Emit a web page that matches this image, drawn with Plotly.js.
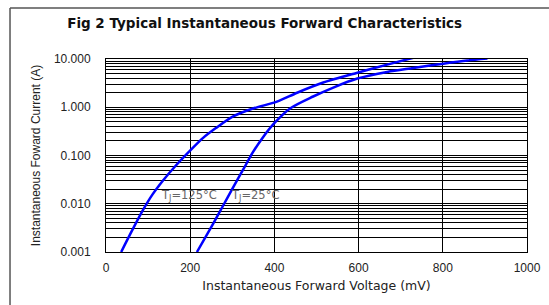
<!DOCTYPE html>
<html>
<head>
<meta charset="utf-8">
<script src="https://cdn.plot.ly/plotly-3.0.1.min.js"></script>
<style>html,body{margin:0;padding:0;background:#fff;}#chart{width:549px;height:305px;}</style>
</head>
<body>
<div id="chart"></div>
<script>
// Tj = 125 C curve
const v125 = [36, 63, 87, 111, 135, 166, 202, 230, 261, 302, 349, 406, 454, 516, 597, 668, 730];
const i125 = [0.001, 0.0029, 0.0072, 0.0158, 0.030, 0.062, 0.132, 0.229, 0.37, 0.646, 0.94, 1.31, 2.0, 3.25, 5.2, 7.65, 10.6];
// Tj = 25 C curve
const v25 = [216, 254, 278, 302, 326, 349, 373, 402, 438, 492, 540, 597, 668, 730, 801, 858, 906];
const i25 = [0.001, 0.0038, 0.0091, 0.0219, 0.0513, 0.117, 0.24, 0.49, 0.955, 1.67, 2.56, 3.93, 5.4, 6.5, 8.0, 9.3, 10.2];

const xTicks = [0, 200, 400, 600, 800, 1000];
const yDecades = [0.001, 0.01, 0.1, 1, 10];
const yDecadeLabels = ['0.001', '0.010', '0.100', '1.000', '10.000'];

const yTickVals = [];
const yTickText = [];
for (let d = 0; d < yDecades.length; d++) {
  const base = yDecades[d];
  const maxK = (d === yDecades.length - 1) ? 1 : 9;
  for (let k = 1; k <= maxK; k++) {
    yTickVals.push(base * k);
    yTickText.push(k === 1 ? yDecadeLabels[d] : '');
  }
}

const lineStyle = {color: '#0000ff', width: 2.5, shape: 'spline', smoothing: 0.8};
const traces = [
  {x: v125, y: i125, mode: 'lines', line: lineStyle, hoverinfo: 'skip'},
  {x: v25, y: i25, mode: 'lines', line: lineStyle, hoverinfo: 'skip'}
];

const font = {family: 'Liberation Sans, Arial, sans-serif', color: '#222'};
const wide = {family: 'DejaVu Sans, sans-serif', color: '#222'};

const layout = {
  width: 549, height: 305,
  margin: {l: 106, r: 22, t: 59, b: 53},
  paper_bgcolor: '#fff', plot_bgcolor: '#fff',
  showlegend: false,
  font: Object.assign({}, font, {size: 12}),
  title: {
    text: '<b>Fig 2 Typical Instantaneous Forward Characteristics</b>',
    font: Object.assign({}, wide, {size: 13.5, color: '#111'}),
    x: 0.482, xanchor: 'center', y: 0.925, yanchor: 'middle'
  },
  xaxis: {
    range: [0, 1000], tickvals: xTicks, ticks: '',
    showgrid: true, gridcolor: '#000', gridwidth: 1,
    zeroline: false, showline: true, linecolor: '#000', linewidth: 1, mirror: true,
    tickfont: Object.assign({}, font, {size: 12}),
    ticklabelstandoff: 5,
    title: {text: 'Instantaneous Forward Voltage (mV)', font: Object.assign({}, wide, {size: 12.5}), standoff: 6}
  },
  yaxis: {
    type: 'log', range: [-3, 1],
    tickvals: yTickVals, ticktext: yTickText, ticks: '',
    showgrid: true, gridcolor: '#000', gridwidth: 1,
    zeroline: false, showline: true, linecolor: '#000', linewidth: 1, mirror: true,
    tickfont: Object.assign({}, font, {size: 12}),
    ticklabelstandoff: 12,
    title: {text: 'Instantaneous Foward Current (A)', font: Object.assign({}, font, {size: 12}), standoff: 10}
  },
  annotations: [
    {x: 127, y: Math.log10(0.015), xref: 'x', yref: 'y', text: 'T<sub>J</sub>=125°C', showarrow: false,
     xanchor: 'left', yanchor: 'middle', font: Object.assign({}, wide, {size: 11.5, color: '#666'})},
    {x: 292, y: Math.log10(0.015), xref: 'x', yref: 'y', text: 'T<sub>J</sub>=25°C', showarrow: false,
     xanchor: 'left', yanchor: 'middle', font: Object.assign({}, wide, {size: 11.5, color: '#666'})}
  ],
  shapes: [
    {type: 'line', xref: 'paper', yref: 'paper', x0: -0.228, x1: 1.1, y0: 1.264, y1: 1.264, line: {color: '#555', width: 1.5}},
    {type: 'line', xref: 'paper', yref: 'paper', x0: -0.228, x1: -0.228, y0: 1.264, y1: -0.3, line: {color: '#555', width: 1.5}}
  ]
};

Plotly.newPlot('chart', traces, layout, {staticPlot: true, displayModeBar: false});
</script>
</body>
</html>
